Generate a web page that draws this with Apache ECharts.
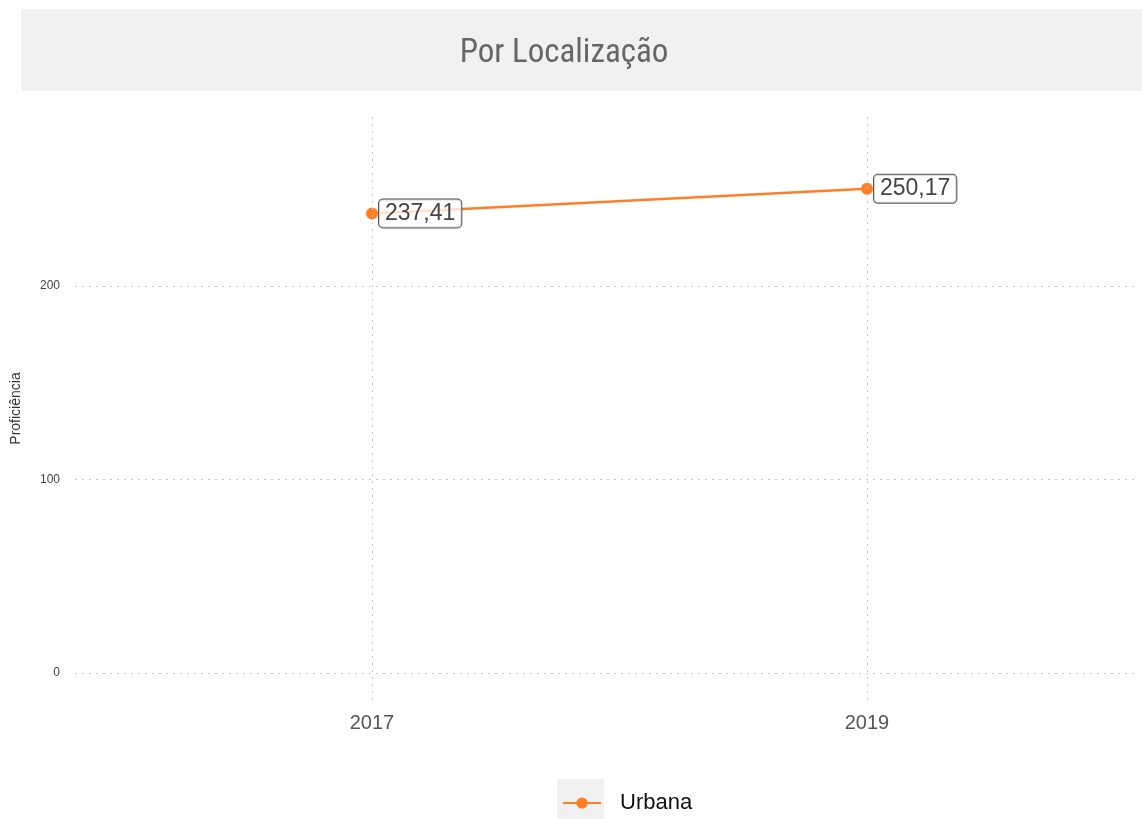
<!DOCTYPE html>
<html><head><meta charset="utf-8">
<script src="https://cdn.jsdelivr.net/npm/echarts@6/dist/echarts.min.js"></script>
<style>html,body{margin:0;padding:0;background:#fff}#c{width:1142px;height:819px}</style>
</head><body><div id="c"></div>
<script>
const years = [2017, 2019];
const urbana = [237.41, 250.17];
const yTicks = [0, 100, 200];
const xTicks = [2017, 2019];
const seriesName = 'Urbana';
const titleText = 'Por Localização';
const yName = 'Proficiência';

const chart = echarts.init(document.getElementById('c'));
const gridLine = {color: '#c8c8c8', width: 1, type: [2, 5]};
chart.setOption({
  animation: false,
  backgroundColor: '#fff',
  graphic: [
    {type: 'rect', left: 21, top: 9, shape: {width: 1121, height: 82}, style: {fill: '#f1f1f1'}, z: -1},
    {type: 'rect', left: 557, top: 779, shape: {width: 47, height: 40}, style: {fill: '#f1f1f1'}, z: -1}
  ],
  title: {
    text: titleText, left: 559, top: 32, textAlign: 'center',
    textStyle: {fontFamily: 'Roboto Condensed, Liberation Sans Narrow, sans-serif', fontSize: 33, fontWeight: 'normal', color: '#666'}
  },
  grid: {left: 75, right: 4, top: 117, bottom: 119, containLabel: false},
  xAxis: {
    type: 'value', min: 2015.8, max: 2020.095,
    axisLine: {show: false}, axisTick: {show: false}, splitLine: {show: false},
    axisLabel: {customValues: xTicks, formatter: v => String(v), fontSize: 20, color: '#555', margin: 13, fontFamily: 'Liberation Sans, Arial, sans-serif'}
  },
  yAxis: {
    type: 'value', min: -13.95, max: 287.3,
    name: yName, nameLocation: 'middle', nameGap: 52, nameRotate: 90,
    nameTextStyle: {fontSize: 14, color: '#333', fontFamily: 'Liberation Sans, Arial, sans-serif'},
    axisLine: {show: false}, axisTick: {show: false}, splitLine: {show: false},
    axisLabel: {customValues: yTicks, fontSize: 12, color: '#444', margin: 15, fontFamily: 'Liberation Sans, Arial, sans-serif'}
  },
  legend: {
    data: [seriesName], left: 557, top: 787, itemWidth: 38, itemHeight: 14, itemGap: 10,
    textStyle: {fontSize: 22, color: '#111', padding: [0, 0, 0, 14], fontFamily: 'Liberation Sans, Arial, sans-serif'}
  },
  series: [
    {
      type: 'line', name: '_grid', data: [], z: 1, silent: true,
      markLine: {
        silent: true, symbol: 'none', label: {show: false}, lineStyle: gridLine, animation: false,
        data: yTicks.map(v => ({yAxis: v})).concat(xTicks.map(v => ({xAxis: v})))
      }
    },
    {
      type: 'line', name: seriesName, z: 3,
      data: years.map((y, i) => [y, urbana[i]]),
      symbol: 'circle', symbolSize: 12,
      lineStyle: {color: '#ff7f27', width: 2.5},
      itemStyle: {color: '#ff7f27'},
      label: {
        show: true, position: 'right', distance: 1,
        formatter: p => p.value[1].toFixed(2).replace('.', ','),
        fontSize: 23, color: '#444', fontFamily: 'Liberation Sans, Arial, sans-serif',
        backgroundColor: 'rgba(255,255,255,0.75)', borderColor: '#555', borderWidth: 1, borderRadius: 4,
        padding: [3, 6, 2, 6]
      }
    }
  ]
});
</script></body></html>
